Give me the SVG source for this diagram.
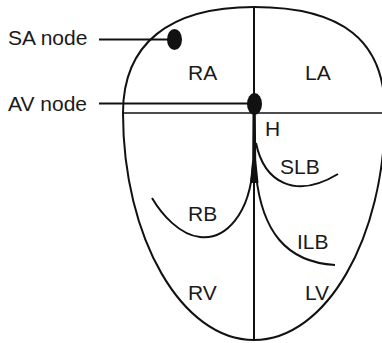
<svg xmlns="http://www.w3.org/2000/svg" width="382" height="343" viewBox="0 0 382 343">
  <style>
    .ln { fill: none; stroke: #111; stroke-width: 2; stroke-linecap: butt; }
    .thin { fill: none; stroke: #111; stroke-width: 1.6; }
    .node { fill: #111; }
    .lbl { font-family: "Liberation Sans", Arial, Helvetica, sans-serif; font-size: 21px; fill: #1a1a1a; }
  </style>
  <rect width="382" height="343" fill="#fff"/>

  <!-- heart outline and chamber dividers -->
  <g id="heart">
    <path class="ln" d="M 123 113 C 123 44, 169 7, 254 7 C 343 7, 385 41, 385 113 C 385 238, 326 340, 254 340 C 182 340, 123 238, 123 113 Z"/>
    <line class="ln" x1="254" y1="7" x2="254" y2="340"/>
    <line class="thin" x1="123" y1="113" x2="385" y2="113"/>
  </g>

  <!-- leader lines and conduction branches -->
  <g id="connectors">
    <line class="ln" x1="99" y1="39.5" x2="170" y2="39.5"/>
    <line class="ln" x1="99" y1="103.5" x2="250" y2="103.5"/>
    <path class="node" d="M 252.5 112 L 255.8 112 L 256.2 160 L 258.5 183 L 250 183 L 252.2 160 Z"/>
    <path class="ln" d="M 256 143 C 264 182, 295 200, 338 174"/>
    <path class="ln" d="M 253 165 C 250 215, 225 240, 200 237 C 180 235, 162 215, 152 198"/>
    <path class="ln" d="M 256 175 C 262 230, 285 262, 335 265"/>
  </g>

  <g id="sa-node">
    <ellipse class="node" cx="174.5" cy="39.5" rx="7.5" ry="10.5"/>
    <text class="lbl" x="8" y="45">SA node</text>
  </g>

  <g id="av-node">
    <ellipse class="node" cx="254.5" cy="104" rx="7.5" ry="11"/>
    <text class="lbl" x="8" y="111">AV node</text>
  </g>

  <g id="labels">
    <text class="lbl" x="188" y="80">RA</text>
    <text class="lbl" x="305" y="80">LA</text>
    <text class="lbl" x="265" y="136">H</text>
    <text class="lbl" x="280" y="174">SLB</text>
    <text class="lbl" x="188" y="221">RB</text>
    <text class="lbl" x="297" y="249">ILB</text>
    <text class="lbl" x="188" y="300">RV</text>
    <text class="lbl" x="305" y="300">LV</text>
  </g>
</svg>
